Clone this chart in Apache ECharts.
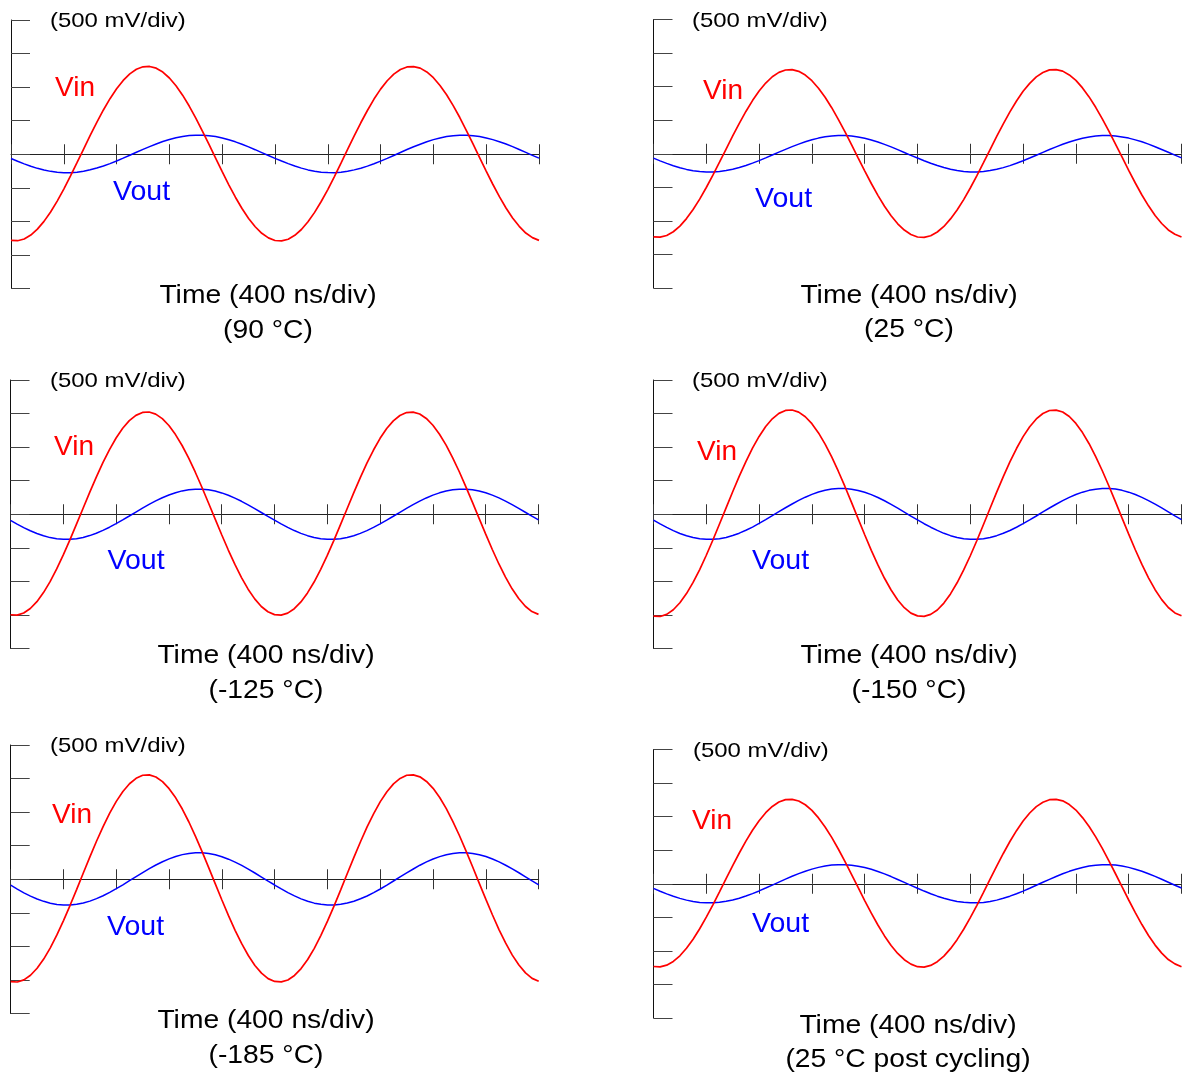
<!DOCTYPE html>
<html>
<head>
<meta charset="utf-8">
<script src="https://cdn.jsdelivr.net/npm/echarts@6/dist/echarts.min.js"></script>
<style>
html,body{margin:0;padding:0;background:#fff;}
#chart{width:1182px;height:1080px;}
</style>
</head>
<body>
<div id="chart"></div>
<script>
// ---- data (time in ns, voltage in mV) ----
// samples read on the 100 ns grid and on the in-between 50 ns points
const timeNs = [0,100,200,300,400,500,600,700,800,900,1000,1100,1200,1300,1400,1500,1600,1700,1800,1900,
  2000,2100,2200,2300,2400,2500,2600,2700,2800,2900,3000,3100,3200,3300,3400,3500,3600,3700,3800,3900,4000];
const timeMidNs = [50,150,250,350,450,550,650,750,850,950,1050,1150,1250,1350,1450,1550,1650,1750,1850,1950,
  2050,2150,2250,2350,2450,2550,2650,2750,2850,2950,3050,3150,3250,3350,3450,3550,3650,3750,3850,3950];

const tempLabels = ['(90 \u00b0C)', '(25 \u00b0C)', '(-125 \u00b0C)', '(-150 \u00b0C)', '(-185 \u00b0C)', '(25 \u00b0C post cycling)'];
const xAxisTitle = 'Time (400 ns/div)';
const yAxisTitle = '(500 mV/div)';
const xTickStepNs = 400;
const yTickStepMv = 500;

// 90 °C
const vin90 = [-1283,-1262,-1116,-860,-519,-126,280,660,976,1198,1303,1282,1136,880,539,146,-260,-640,-956,-1178,
  -1285,-1266,-1121,-866,-527,-133,272,652,970,1193,1301,1283,1140,886,547,155,-251,-632,-950,-1174,-1283];
const vin90Mid = [-1288,-1204,-1000,-698,-326,78,476,828,1100,1266,1308,1224,1020,718,346,-58,-456,-808,-1080,-1246,
  -1290,-1208,-1005,-704,-333,71,469,822,1095,1262,1306,1226,1024,724,353,-50,-447,-800,-1074,-1242];
const vout90 = [-63,-143,-210,-255,-274,-267,-232,-175,-100,-15,73,153,220,265,284,277,242,185,110,25,
  -61,-140,-207,-253,-273,-267,-233,-177,-103,-18,70,150,218,263,283,277,243,187,113,28,-58];
const vout90Mid = [-104,-179,-235,-268,-274,-253,-206,-139,-58,29,114,189,245,278,284,263,216,149,68,-19,
  -101,-176,-233,-267,-274,-254,-208,-142,-61,26,111,187,243,277,284,264,218,152,71,-16];

// 25 °C
const vin25 = [-1238,-1218,-1078,-831,-503,-126,265,630,934,1147,1248,1228,1088,841,513,136,-255,-620,-924,-1137,
  -1240,-1221,-1083,-838,-510,-133,258,624,930,1145,1249,1231,1093,847,520,143,-248,-614,-920,-1135,-1240];
const vin25Mid = [-1243,-1162,-966,-676,-319,70,453,792,1053,1212,1253,1172,976,686,329,-60,-443,-782,-1043,-1202,
  -1245,-1166,-971,-683,-326,63,446,786,1049,1210,1254,1174,981,692,336,-52,-436,-776,-1039,-1199];
const vout25 = [-66,-144,-208,-252,-271,-264,-231,-175,-102,-19,66,144,208,252,271,264,231,175,102,19,
  -64,-142,-206,-251,-271,-265,-232,-177,-104,-22,63,141,206,251,271,265,233,178,105,22,-62];
const vout25Mid = [-106,-178,-233,-265,-271,-250,-205,-140,-61,24,106,178,233,265,271,250,205,140,61,-24,
  -104,-176,-232,-264,-271,-251,-207,-142,-64,21,103,176,232,264,271,251,207,143,64,-21];

// -125 °C
const vinM125 = [-1497,-1472,-1302,-1004,-606,-148,325,768,1136,1394,1517,1492,1322,1024,626,168,-305,-748,-1116,-1374,
  -1495,-1473,-1306,-1010,-613,-155,318,762,1131,1391,1515,1494,1326,1030,633,176,-297,-741,-1111,-1371,-1492];
const vinM125Mid = [-1503,-1404,-1167,-815,-382,89,553,963,1281,1473,1523,1424,1187,835,402,-69,-533,-943,-1261,-1453,
  -1502,-1407,-1172,-821,-389,82,546,957,1277,1471,1521,1427,1191,841,409,-61,-525,-936,-1256,-1450];
const voutM125 = [-91,-199,-287,-348,-374,-364,-318,-241,-140,-26,91,199,287,348,374,364,318,241,140,26,
  -88,-196,-285,-347,-374,-365,-320,-244,-144,-30,87,196,285,347,374,365,320,244,144,30,-85];
const voutM125Mid = [-147,-246,-321,-365,-374,-345,-283,-193,-84,33,147,246,321,365,374,345,283,193,84,-33,
  -144,-243,-319,-364,-374,-346,-285,-196,-88,29,143,243,319,364,374,346,285,196,88,-29];

// -150 °C
const vinM150 = [-1517,-1491,-1319,-1015,-611,-146,335,785,1159,1422,1547,1521,1349,1045,641,176,-305,-755,-1129,-1392,
  -1514,-1492,-1323,-1021,-618,-152,329,780,1156,1420,1546,1523,1353,1051,648,184,-297,-748,-1124,-1389,-1512];
const vinM150Mid = [-1523,-1423,-1182,-824,-384,96,567,984,1307,1503,1553,1453,1212,854,414,-66,-537,-954,-1277,-1473,
  -1521,-1426,-1187,-830,-391,90,561,979,1304,1501,1552,1456,1217,860,421,-58,-529,-947,-1272,-1470];
const voutM150 = [-87,-196,-286,-347,-374,-364,-317,-239,-137,-22,97,206,296,357,384,374,327,249,147,32,
  -84,-193,-284,-346,-374,-365,-319,-242,-141,-26,93,203,294,356,384,375,329,252,151,36,-81];
const voutM150Mid = [-144,-244,-321,-365,-374,-345,-282,-191,-81,38,153,254,331,375,384,355,292,201,91,-28,
  -141,-241,-319,-364,-374,-346,-284,-194,-85,34,149,251,329,374,384,356,294,204,95,-24];

// -185 °C
const vinM185 = [-1525,-1499,-1326,-1022,-616,-150,333,785,1160,1423,1549,1523,1350,1046,640,174,-309,-761,-1136,-1399,
  -1522,-1501,-1331,-1029,-624,-158,326,779,1156,1421,1549,1526,1355,1053,648,182,-300,-753,-1130,-1395,-1520];
const vinM185Mid = [-1531,-1430,-1189,-829,-388,93,566,984,1308,1504,1555,1454,1213,853,412,-69,-542,-960,-1284,-1480,
  -1529,-1433,-1195,-836,-396,86,559,978,1304,1502,1555,1457,1218,860,420,-61,-533,-952,-1278,-1477];
const voutM185 = [-89,-202,-294,-357,-384,-373,-326,-246,-141,-22,99,212,304,367,394,383,336,256,151,32,
  -86,-199,-292,-356,-384,-374,-328,-249,-145,-26,95,209,302,366,394,384,338,259,155,36,-83];
const voutM185Mid = [-147,-251,-329,-375,-384,-354,-289,-196,-83,39,157,261,339,385,394,364,299,206,93,-29,
  -144,-248,-327,-374,-384,-355,-291,-199,-87,35,153,258,337,384,394,365,301,209,97,-25];

// 25 °C post cycling
const vin25post = [-1233,-1213,-1073,-826,-498,-121,270,635,939,1152,1253,1233,1093,846,518,141,-250,-615,-919,-1132,
  -1236,-1217,-1079,-833,-505,-128,263,629,934,1149,1252,1235,1098,853,526,149,-242,-608,-914,-1129,-1236];
const vin25postMid = [-1238,-1157,-961,-671,-314,75,458,797,1058,1217,1258,1177,981,691,334,-55,-438,-777,-1038,-1197,
  -1241,-1161,-967,-678,-321,68,451,791,1054,1214,1257,1180,986,698,342,-47,-430,-770,-1033,-1194];
const vout25post = [-69,-151,-218,-264,-284,-277,-242,-183,-107,-20,69,151,218,264,284,277,242,183,107,20,
  -67,-149,-216,-263,-284,-278,-244,-185,-110,-23,66,148,216,263,284,278,244,186,110,23,-64];
const vout25postMid = [-111,-187,-244,-278,-284,-262,-215,-147,-64,25,111,187,244,278,284,262,215,147,64,-25,
  -109,-185,-243,-277,-284,-263,-217,-149,-67,22,108,185,243,277,284,263,217,149,67,-22];

const vinSets = [[vin90, vin90Mid], [vin25, vin25Mid], [vinM125, vinM125Mid], [vinM150, vinM150Mid], [vinM185, vinM185Mid], [vin25post, vin25postMid]];
const voutSets = [[vout90, vout90Mid], [vout25, vout25Mid], [voutM125, voutM125Mid], [voutM150, voutM150Mid], [voutM185, voutM185Mid], [vout25post, vout25postMid]];

function mergeSamples(main, mid) {
  const out = [];
  for (let k = 0; k < timeNs.length; k++) {
    out.push([timeNs[k], main[k]]);
    if (k < timeMidNs.length) out.push([timeMidNs[k], mid[k]]);
  }
  return out;
}

// ---- layout ----
const PW = 528, PH = 268.5;
const panels = [
  {left: 11,    top: 20,    vin: [55, 86.7],  vout: [113, 190.5], tx: 268, ylab: 50},
  {left: 653.5, top: 19.5,  vin: [703, 89.7], vout: [755, 196.7], tx: 909, ylab: 692},
  {left: 10.5,  top: 380,   vin: [54, 445.5], vout: [107.5, 559.3], tx: 266, ylab: 50},
  {left: 653.5, top: 380,   vin: [697, 450.3], vout: [752, 558.8], tx: 909, ylab: 692},
  {left: 10.7,  top: 745,   vin: [52, 813.7], vout: [107, 925.3], tx: 266, ylab: 50},
  {left: 653.5, top: 749.5, vin: [692, 819],  vout: [752, 922.3], tx: 908, ylab: 693}
];

const FONT = "'Liberation Sans', Arial, sans-serif";
const grids = [], xAxes = [], yAxes = [], series = [], graphics = [];

panels.forEach((p, i) => {
  grids.push({left: p.left, top: p.top, width: PW, height: PH, containLabel: false});
  const xBase = {
    type: 'value', gridIndex: i, min: 0, max: 4000, interval: xTickStepNs,
    axisLabel: {show: false}, splitLine: {show: false}
  };
  xAxes.push(Object.assign({}, xBase, {position: 'bottom',
    axisLine: {show: true, onZero: true, lineStyle: {color: '#222', width: 1}},
    axisTick: {show: true, inside: false, length: 10, lineStyle: {color: '#333', width: 1}}}));
  // second x axis only for the upward half of the crossing ticks, shifted down to the zero line
  xAxes.push(Object.assign({}, xBase, {position: 'top', offset: -PH / 2,
    axisLine: {show: false, onZero: false},
    axisTick: {show: true, inside: false, length: 10, lineStyle: {color: '#333', width: 1}}}));
  yAxes.push({
    type: 'value', gridIndex: i, min: -2000, max: 2000, interval: yTickStepMv, position: 'left',
    axisLine: {show: true, onZero: false, lineStyle: {color: '#111', width: 1}},
    axisTick: {show: true, inside: true, length: 19, lineStyle: {color: '#444', width: 1}},
    axisLabel: {show: false}, splitLine: {show: false}
  });
  series.push({
    type: 'line', xAxisIndex: 2 * i, yAxisIndex: i, showSymbol: false, smooth: false,
    lineStyle: {color: '#0000ff', width: 1.5}, animation: false, silent: true,
    data: mergeSamples(voutSets[i][0], voutSets[i][1])
  });
  series.push({
    type: 'line', xAxisIndex: 2 * i, yAxisIndex: i, showSymbol: false, smooth: false,
    lineStyle: {color: '#ff0000', width: 1.7}, animation: false, silent: true,
    data: mergeSamples(vinSets[i][0], vinSets[i][1])
  });

  const txt = (x, y, s, size, color, align, sx) => ({
    type: 'text', x: x, y: y, scaleX: sx, silent: true,
    style: {text: s, font: size + 'px ' + FONT, fill: color, textAlign: align, textVerticalAlign: 'middle'}
  });
  graphics.push(txt(p.ylab, p.top + 1.5, yAxisTitle, 21, '#000', 'left', 1.14));
  graphics.push(txt(p.vin[0], p.vin[1] + 2, 'Vin', 28, '#ff0000', 'left', 1));
  graphics.push(txt(p.vout[0], p.vout[1] + 2, 'Vout', 28.5, '#0000ff', 'left', 1));
  graphics.push(txt(p.tx, p.top + 276.5, xAxisTitle, 25, '#000', 'center', 1.13));
  graphics.push(txt(p.tx, p.top + 311, tempLabels[i], 25, '#000', 'center', 1.13));
});

const chart = echarts.init(document.getElementById('chart'), null, {renderer: 'canvas'});
chart.setOption({
  animation: false,
  backgroundColor: '#ffffff',
  grid: grids, xAxis: xAxes, yAxis: yAxes, series: series, graphic: graphics
});
</script>
</body>
</html>
